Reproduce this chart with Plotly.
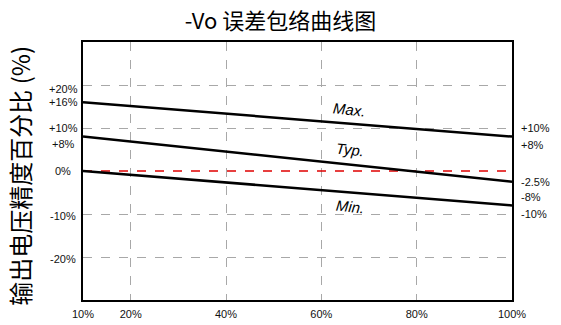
import plotly.graph_objects as go

# Load fraction (% of rated load) on the x axis
load_pct = [10, 100]

# Output voltage accuracy envelope (%) at 10% and 100% load
max_err = [16, 8]
typ_err = [8, -2.5]
min_err = [0, -8]

x_ticks = [10, 20, 40, 60, 80, 100]
x_tick_text = ["10%", "20%", "40%", "60%", "80%", "100%"]

# Values marked along the left and right edges of the plot
left_vals = [20, 16, 10, 8, 0, -10, -20]
left_text = ["+20%", "+16%", "+10%", "+8%", "0%", "-10%", "-20%"]
left_shift = [-4, 0, 0, -7, 0, -2, -2]

right_vals = [10, 8, -2.5, -8, -10]
right_text = ["+10%", "+8%", "-2.5%", "-8%", "-10%"]
right_shift = [0, -8, 0, 8, 0]

curve_names = ["Max.", "Typ.", "Min."]
curve_label_pos = [(66, 14.3), (66, 5.0), (66, -8.3)]

LAT = "Liberation Sans"
CJK = "Noto Sans CJK SC"

fig = go.Figure()

# zero reference
fig.add_trace(go.Scatter(x=load_pct, y=[0, 0], mode="lines",
                         line=dict(color="#e00000", width=1.5, dash="dash"),
                         hoverinfo="skip", showlegend=False))

for ys in (max_err, typ_err, min_err):
    fig.add_trace(go.Scatter(x=load_pct, y=ys, mode="lines",
                             line=dict(color="black", width=2.5),
                             showlegend=False))

annotations = []
for v, t, s in zip(left_vals, left_text, left_shift):
    annotations.append(dict(x=10, y=v, xref="x", yref="y", text=t,
                            showarrow=False, xanchor="center", yanchor="middle",
                            xshift=-20, yshift=s,
                            font=dict(family=LAT, size=11, color="#111")))
for v, t, s in zip(right_vals, right_text, right_shift):
    annotations.append(dict(x=100, y=v, xref="x", yref="y", text=t,
                            showarrow=False, xanchor="left", yanchor="middle",
                            xshift=7, yshift=s,
                            font=dict(family=LAT, size=11, color="#111")))
for name, (cx, cy) in zip(curve_names, curve_label_pos):
    annotations.append(dict(x=cx, y=cy, xref="x", yref="y",
                            text="<i>%s</i>" % name, showarrow=False,
                            textangle=6,
                            font=dict(family=LAT, size=15, color="black")))

annotations.append(dict(x=-0.148, y=0.48, xref="paper", yref="paper",
                        text="输出电压精度百分比 (%)", textangle=-90,
                        showarrow=False, xanchor="center", yanchor="middle",
                        font=dict(family=CJK, size=24, color="black")))

fig.update_layout(
    width=561, height=325,
    margin=dict(l=83, r=49, t=42, b=25),
    paper_bgcolor="white", plot_bgcolor="white",
    title=dict(text="-Vo 误差包络曲线图", x=0.5, xanchor="center",
               y=1 - 21 / 325, yanchor="middle", yref="container",
               font=dict(family=CJK, size=22, color="black")),
    annotations=annotations,
)

fig.update_xaxes(range=[10, 100], tickvals=x_ticks, ticktext=x_tick_text,
                 tickfont=dict(family=LAT, size=11, color="#111"),
                 ticklabelstandoff=3, automargin=False,
                 showgrid=True, gridcolor="#a8a8a8", griddash="dash", gridwidth=1,
                 showline=True, linecolor="black", linewidth=2, mirror=True,
                 ticks="", zeroline=False)
fig.update_yaxes(range=[-30, 30], tickvals=[-20, -10, 10, 20],
                 showticklabels=False, automargin=False,
                 showgrid=True, gridcolor="#a8a8a8", griddash="dash", gridwidth=1,
                 showline=True, linecolor="black", linewidth=2, mirror=True,
                 ticks="", zeroline=False)

fig.write_html("out.html")
